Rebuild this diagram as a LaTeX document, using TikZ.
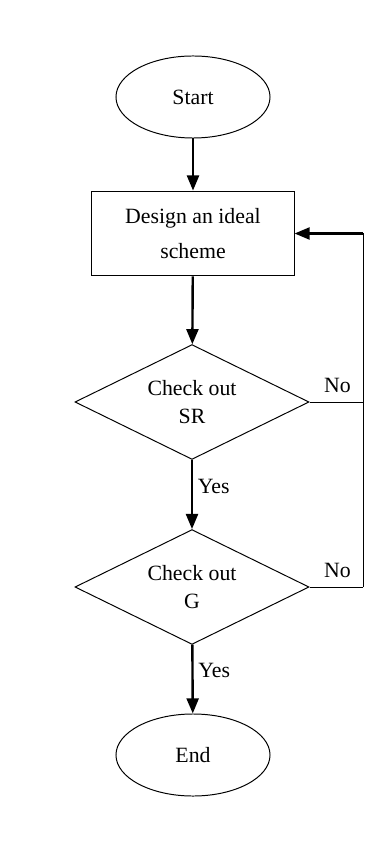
\documentclass[tikz,border=0pt]{standalone}
\usepackage{fontspec}
\setmainfont{Liberation Serif}
\usepackage{tikz}
\usetikzlibrary{arrows.meta, shapes.geometric, positioning}

\begin{document}
\begin{tikzpicture}[
    x=0.025cm, y=-0.025cm,
    font=\fontsize{15.5}{25}\selectfont,
    % Define styles for the flowchart blocks
    terminal/.style={ellipse, draw, line width=0.7pt, inner sep=0pt,
        minimum width=3.85cm, minimum height=2.05cm},
    process/.style={rectangle, draw, line width=0.7pt, inner sep=0pt, align=center,
        minimum width=5.05cm, minimum height=2.12cm},
    decision/.style={diamond, draw, line width=0.7pt, inner sep=0pt, align=center,
        shape aspect=2.03, minimum width=5.85cm, minimum height=2.87cm,
        font=\fontsize{15.5}{19.5}\selectfont},
    flow/.style={line width=1.7pt, -{Triangle[length=0.38cm, width=0.3cm]}},
    back/.style={line width=0.7pt}
]

% --- Page ---
\fill[white] (0,0) rectangle (388,845);
\useasboundingbox (0,0) rectangle (388,845);

% --- Blocks ---
\node[terminal] (start) at (193,97) {Start};
\node[process] (design) at (193,233.5) {Design an ideal\\scheme};
\node[decision] (sr) at (192,402) {Check out\\SR};
\node[decision] (g) at (192,587) {Check out\\G};
\node[terminal] (end) at (193,755) {End};

% Return line on the right
\coordinate (loop) at (363,587);

% --- Main flow ---
\draw[flow] (start) -- (design);
\draw[flow] (design) -- (sr);
\draw[flow] (sr) -- node[pos=0.38, right] {Yes} (g);
\draw[flow] (g) -- node[pos=0.38, right] {Yes} (end);

% --- Feedback ---
\draw[back] (sr.east) -- (sr.east -| loop) node[pos=0.52, above=3pt] {No};
\draw[back] (g.east) -- (loop) node[pos=0.52, above=3pt] {No};
\draw[back] (loop) -- (loop |- design.east);
\draw[line width=1.7pt, -{Triangle[length=0.38cm, width=0.3cm]}]
    (loop |- design.east) -- (design.east);

\end{tikzpicture}
\end{document}
